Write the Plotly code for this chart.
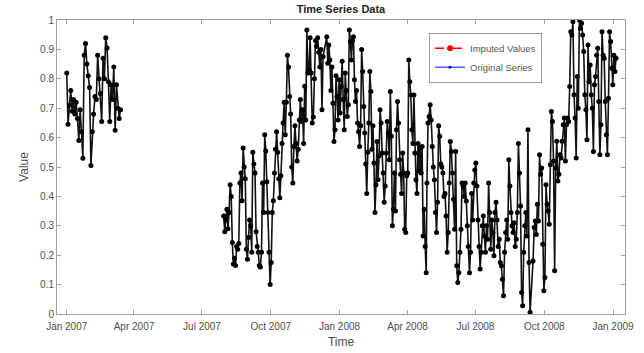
import pandas as pd
import plotly.graph_objects as go

# ---- data ----
seg1_start, seg1_end = "2007-01-01", "2007-03-14"
seg1_values = [0.82, 0.645, 0.71, 0.76, 0.69, 0.73, 0.68, 0.72, 0.665, 0.59, 0.695, 0.62, 0.53,
               0.88, 0.92, 0.85, 0.81, 0.77, 0.505, 0.62, 0.68, 0.74, 0.73, 0.88, 0.80, 0.75,
               0.655, 0.87, 0.80, 0.94, 0.905, 0.79, 0.655, 0.78, 0.73, 0.84, 0.625, 0.78,
               0.70, 0.665, 0.695]

segA_start, segA_end = "2007-07-30", "2007-12-10"
segA_values = [0.333, 0.28, 0.32, 0.356, 0.29, 0.345, 0.44, 0.40, 0.243, 0.17, 0.19, 0.165,
               0.23, 0.22, 0.24, 0.446, 0.48, 0.385, 0.565, 0.50, 0.46, 0.22, 0.186, 0.26,
               0.32, 0.30, 0.21, 0.55, 0.51, 0.48, 0.28, 0.23, 0.21, 0.165, 0.16, 0.21,
               0.446, 0.345, 0.61, 0.554, 0.45, 0.345, 0.21, 0.10, 0.175, 0.345, 0.385,
               0.48, 0.56, 0.62, 0.55, 0.46, 0.395, 0.47, 0.58, 0.65, 0.72, 0.61, 0.72,
               0.88, 0.84, 0.74, 0.68, 0.50, 0.446, 0.57, 0.64, 0.58, 0.52, 0.56, 0.66,
               0.73, 0.655, 0.695, 0.58, 0.775, 0.66, 0.966, 0.82, 0.83, 0.94, 0.82, 0.65,
               0.67, 0.80, 0.93, 0.91, 0.94, 0.89, 0.84, 0.90, 0.695, 0.876]

segB_start, segB_end = "2007-12-15", "2008-04-26"
segB_values = [0.943, 0.853, 0.915, 0.864, 0.76, 0.84, 0.717, 0.587, 0.627, 0.81, 0.74, 0.66,
               0.797, 0.684, 0.774, 0.86, 0.73, 0.627, 0.82, 0.76, 0.672, 0.712, 0.966,
               0.927, 0.864, 0.93, 0.943, 0.797, 0.723, 0.76, 0.65, 0.62, 0.57, 0.64, 0.90,
               0.825, 0.706, 0.616, 0.51, 0.41, 0.55, 0.65, 0.825, 0.757, 0.56, 0.64, 0.514,
               0.345, 0.44, 0.587, 0.457, 0.537, 0.695, 0.65, 0.548, 0.48, 0.38, 0.435,
               0.548, 0.655, 0.616, 0.525, 0.757, 0.605, 0.30, 0.356, 0.48, 0.35, 0.627,
               0.723, 0.65, 0.525, 0.475, 0.41, 0.548, 0.48, 0.288, 0.277, 0.47, 0.48,
               0.864, 0.79, 0.745, 0.627, 0.58, 0.745, 0.548, 0.457, 0.41, 0.58, 0.486,
               0.565, 0.48, 0.57, 0.265, 0.356, 0.23, 0.14]

segC_start, segC_end = "2008-04-27", "2008-09-12"
segC_values = [0.446, 0.65, 0.672, 0.712, 0.66, 0.57, 0.50, 0.457, 0.345, 0.277, 0.38, 0.64,
               0.605, 0.51, 0.50, 0.48, 0.40, 0.41, 0.333, 0.21, 0.277, 0.446, 0.587, 0.553,
               0.48, 0.39, 0.288, 0.553, 0.164, 0.107, 0.14, 0.21, 0.288, 0.446, 0.435,
               0.40, 0.446, 0.384, 0.30, 0.23, 0.14, 0.21, 0.41, 0.32, 0.446, 0.49, 0.514,
               0.435, 0.32, 0.23, 0.153, 0.21, 0.30, 0.333, 0.265, 0.21, 0.30, 0.254,
               0.446, 0.345, 0.22, 0.32, 0.277, 0.198, 0.345, 0.38, 0.32, 0.23, 0.254,
               0.175, 0.164, 0.118, 0.062, 0.21, 0.277, 0.32, 0.254, 0.525, 0.435, 0.345,
               0.30, 0.277, 0.31, 0.23, 0.254, 0.345, 0.58, 0.48, 0.367, 0.073, 0.028,
               0.21, 0.30, 0.345, 0.265, 0.627, 0.175, 0.006]

segD_start, segD_end = "2008-09-16", "2009-01-05"
segD_values = [0.18, 0.294, 0.316, 0.27, 0.373, 0.316, 0.542, 0.475, 0.497, 0.237, 0.079,
               0.124, 0.44, 0.373, 0.35, 0.305, 0.508, 0.689, 0.655, 0.52, 0.147, 0.497,
               0.588, 0.452, 0.475, 0.542, 0.531, 0.588, 0.644, 0.667, 0.52, 0.644, 0.667,
               0.655, 0.774, 0.96, 0.949, 0.994, 0.746, 0.667, 0.531, 0.808, 0.70, 1.0,
               0.972, 0.989, 0.949, 0.893, 0.746, 0.695, 0.593, 0.915, 0.79, 0.847, 0.746,
               0.70, 0.553, 0.78, 0.808, 0.88, 0.904, 0.723, 0.542, 0.644, 0.96, 0.88,
               0.87, 0.723, 0.61, 0.542, 0.734, 0.96, 0.927, 0.836, 0.78, 0.88, 0.825, 0.87]

x_tick_labels = ["Jan 2007", "Apr 2007", "Jul 2007", "Oct 2007", "Jan 2008",
                 "Apr 2008", "Jul 2008", "Oct 2008", "Jan 2009"]
x_tick_dates = ["2007-01-01", "2007-04-01", "2007-07-01", "2007-10-01", "2008-01-01",
                "2008-04-01", "2008-07-01", "2008-10-01", "2009-01-01"]
y_ticks = [0, 0.1, 0.2, 0.3, 0.4, 0.5, 0.6, 0.7, 0.8, 0.9, 1]


def span(start, end, vals):
    return list(pd.date_range(start, end, periods=len(vals)))


xs, ys = [], []
xs += span(seg1_start, seg1_end, seg1_values); ys += seg1_values
xs.append(None); ys.append(None)
for s, e, v in [(segA_start, segA_end, segA_values), (segB_start, segB_end, segB_values),
                (segC_start, segC_end, segC_values), (segD_start, segD_end, segD_values)]:
    xs += span(s, e, v); ys += v

FONT = "Liberation Sans, Arial, sans-serif"
AX = "#a0a0a0"
TXT = "#4d4d4d"

fig = go.Figure()
fig.add_trace(go.Scatter(x=xs, y=ys, mode="lines+markers", showlegend=False,
                         line=dict(color="#111111", width=1.6),
                         marker=dict(color="black", size=5), connectgaps=False))
fig.add_trace(go.Scatter(x=[None], y=[None], mode="lines+markers", name="Imputed Values",
                         line=dict(color="red", width=1.5, dash="dash"),
                         marker=dict(color="red", size=6)))
fig.add_trace(go.Scatter(x=[None], y=[None], mode="lines+markers", name="Original Series",
                         line=dict(color="blue", width=1),
                         marker=dict(color="blue", size=3)))

fig.update_layout(
    width=644, height=353,
    margin=dict(l=57, r=19, t=20, b=39),
    paper_bgcolor="white", plot_bgcolor="white",
    font=dict(family=FONT, size=10, color=TXT),
    title=dict(text="<b>Time Series Data</b>", x=0.5, xref="paper", y=1 - 9 / 353,
               yref="container", yanchor="middle", xanchor="center",
               font=dict(size=11, color="#222222", family=FONT)),
    legend=dict(x=0.655, y=0.957, xanchor="left", yanchor="top",
                bordercolor="#999999", borderwidth=1, bgcolor="white",
                font=dict(size=9.5, color="#555555", family=FONT),
                itemwidth=30, tracegroupgap=0),
    xaxis=dict(range=["2006-12-19", "2009-01-17"], tickvals=x_tick_dates,
               ticktext=x_tick_labels, ticks="inside", ticklen=4, tickcolor=AX,
               showline=True, linecolor=AX, linewidth=1, mirror="ticks", showgrid=False,
               zeroline=False, tickfont=dict(size=10, color=TXT), ticklabelstandoff=3,
               automargin=False,
               title=dict(text="Time", font=dict(size=12, color=TXT), standoff=6)),
    yaxis=dict(range=[0, 1], tickvals=y_ticks, ticks="inside", ticklen=4, tickcolor=AX,
               showline=True, linecolor=AX, linewidth=1, mirror="ticks", showgrid=False,
               zeroline=False, tickfont=dict(size=10, color=TXT), automargin=False,
               title=dict(text="Value", font=dict(size=12, color=TXT), standoff=8)),
)

fig.write_html("out.html")
